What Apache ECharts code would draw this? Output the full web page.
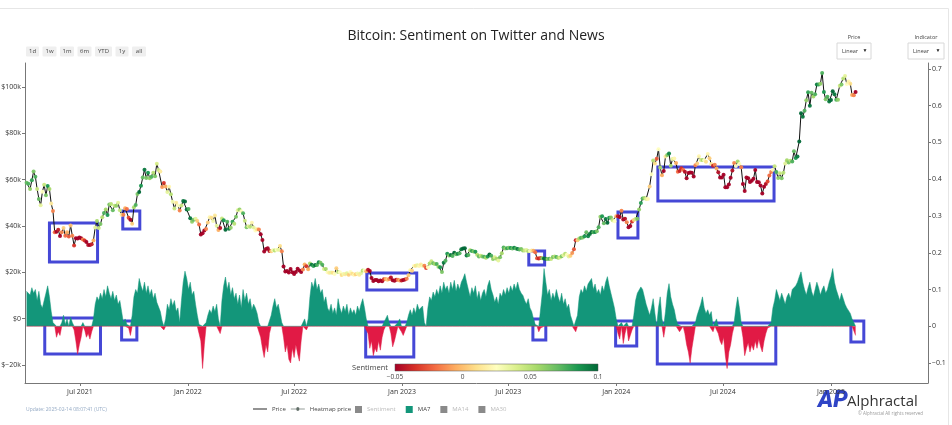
<!DOCTYPE html>
<html><head><meta charset="utf-8">
<script src="https://cdn.jsdelivr.net/npm/echarts@6/dist/echarts.min.js"></script>
<style>html,body{margin:0;padding:0;background:#fff}#c{width:952px;height:425px}</style>
</head><body><div id="c"></div>
<script>
// ---------------- DATA ----------------
const startDate = '2021-04-01';   // first sample
const stepDays = 3;               // one sample every 3 days

// BTC price (USD), one value every 3 days from 2021-04-01
const price = [
58700,58200,56000,59800,63500,61300,56000,51700,49000,54800,
57800,53300,57300,56000,49700,46500,37300,37500,38400,35700,
37300,39200,35800,37300,35500,40200,35800,31600,34700,34600,
35000,34700,34200,33800,33100,31800,31800,32100,33800,39400,
42200,39200,40900,43800,45600,47100,44800,49300,49500,46800,
48800,48800,50000,46800,44900,44900,47700,47300,43600,42700,
41000,48100,49100,53800,54700,57400,60900,64300,60700,63000,
60600,61300,63000,61500,66900,64200,63500,56900,58600,57100,
54700,57000,53700,50500,47600,50100,48900,46700,48900,50800,
50600,47100,47300,43400,41800,42700,43100,42200,40700,36300,
36900,38100,38700,41500,43800,43600,42200,44600,40100,38300,
39100,43200,42500,38400,41900,38800,39300,41800,41000,44000,
46800,47100,46400,45500,42300,39500,39900,39700,41400,39400,
38100,38600,38500,36500,34000,29000,30100,30400,29200,29100,
29500,29400,29800,29800,31400,29100,22500,20400,20600,19900,
21500,20100,19300,20200,21600,20800,20200,21200,23400,22600,
21300,23800,23300,22800,23200,23200,24400,24100,23300,21500,
21500,20000,19800,19900,19800,19300,21800,20200,20100,18900,
19300,19200,19600,19000,20200,19400,19000,19200,19500,19000,
19600,20800,20800,20500,21100,20600,17600,16300,16700,16700,
16200,16500,16200,17000,17100,16800,17100,17800,16600,16400,
16800,16800,16500,16500,16700,16900,17200,18800,20900,20700,
22800,22900,23100,22800,23400,22900,22900,21900,22200,23800,
24800,23900,23600,23600,22400,22200,20200,24100,25000,28000,
27300,27500,27100,28500,27800,28000,28300,30000,30300,30400,
27300,27500,29500,29200,29000,28900,27600,26800,27200,26800,
26700,26300,26900,27700,27200,25800,26500,25900,25100,26500,
28300,30700,30300,30400,30600,30500,30300,30600,30300,30100,
29900,30100,29400,29400,29700,29100,29200,29400,29300,28700,
26100,26000,26200,26100,26000,25900,25800,25900,25800,26600,
26800,26600,26300,26400,27000,27400,28000,27600,26800,27200,
28400,30000,33900,33900,34600,34900,35000,35600,37300,35600,
36600,37400,37300,37400,37800,39500,44000,44200,41200,43000,
41400,43600,43700,42500,42100,44200,44200,43900,46600,42800,
43100,41600,39500,40000,42000,42600,43000,43100,47100,49900,
51900,52100,51700,51700,57100,62400,68300,67000,69000,73100,
65300,61900,63800,70000,70700,71300,66000,68900,69100,67200,
63400,63800,64900,64300,63400,60600,62900,63100,63000,61400,
66200,67000,70100,68500,68500,68400,67700,71100,69300,66800,
66000,66500,64800,63200,60900,60900,62100,56700,56700,57900,
60800,64000,67200,65900,67900,66800,65400,58100,55100,60900,
60600,59000,59500,60400,64200,59000,58900,57500,54000,57000,
58100,59200,61800,63300,64300,65800,63300,60700,62800,60600,
63000,67000,68400,67400,68200,67900,72300,69400,70000,76500,
88700,87200,89800,94300,97700,91900,97500,95900,96900,101100,
101100,101400,106100,97800,94700,95800,93700,94400,98200,96900,
94500,94500,100500,101100,103700,104800,101300,102400,101400,96600,
96500,97900
];

// Sentiment MA7 (indicator axis), same dates
const sentimentMA7 = [
0.095,0.1,0.085,0.105,0.09,0.1,0.07,0.095,0.06,0.05,
0.07,0.09,0.11,0.08,0.04,0.01,0.005,-0.03,-0.015,-0.025,
0.01,0.03,0.005,0.02,0.0,0.025,0.01,-0.01,-0.04,-0.076,
-0.05,-0.03,0.01,-0.01,-0.03,-0.02,-0.035,-0.015,0.02,0.06,
0.08,0.07,0.09,0.075,0.1,0.08,0.11,0.09,0.075,0.095,
0.07,0.085,0.06,0.07,0.04,0.01,0.02,0.005,-0.005,-0.025,
0.03,0.08,0.1,0.09,0.13,0.11,0.095,0.12,0.09,0.11,
0.085,0.1,0.075,0.09,0.065,0.07,0.04,0.015,-0.01,0.02,
0.06,0.045,0.075,0.055,0.07,0.04,0.05,0.01,0.07,0.12,
0.15,0.13,0.1,0.12,0.085,0.095,0.06,0.03,0.005,-0.04,
-0.115,-0.05,0.01,0.03,0.045,0.035,0.055,0.04,0.06,0.02,
-0.02,0.07,0.11,0.134,0.1,0.12,0.085,0.105,0.075,0.09,
0.06,0.085,0.05,0.1,0.07,0.09,0.06,0.075,0.045,0.06,
0.05,0.035,0.01,-0.03,-0.06,-0.085,-0.05,-0.07,-0.02,0.03,
0.055,0.075,0.05,0.06,0.035,0.01,-0.03,-0.07,-0.05,-0.09,
-0.1,-0.06,-0.085,-0.05,-0.075,-0.095,-0.04,0.01,0.02,-0.01,
0.02,0.08,0.12,0.105,0.13,0.1,0.115,0.09,0.1,0.065,
0.08,0.05,0.04,0.06,0.035,0.05,0.03,0.075,0.05,0.035,
0.055,0.04,0.06,0.03,0.05,0.035,0.045,0.03,0.055,0.04,
0.06,0.075,0.05,0.02,-0.02,-0.06,-0.04,-0.08,-0.06,-0.07,
-0.04,-0.065,-0.03,-0.01,0.02,0.03,0.01,-0.02,-0.056,-0.04,
-0.02,0.01,0.02,-0.015,-0.025,-0.02,0.01,0.03,0.045,0.03,
0.05,0.035,0.06,0.045,0.04,0.055,0.01,-0.005,0.05,0.08,
0.07,0.093,0.08,0.1,0.085,0.11,0.09,0.12,0.1,0.11,
0.09,0.12,0.1,0.125,0.095,0.115,0.1,0.12,0.13,0.143,
0.12,0.1,0.08,0.105,0.09,0.11,0.075,0.095,0.07,0.09,
0.1,0.08,0.11,0.125,0.1,0.085,0.065,0.08,0.06,0.09,
0.08,0.1,0.085,0.105,0.09,0.11,0.095,0.115,0.1,0.12,
0.1,0.09,0.084,0.07,0.06,0.075,0.05,0.04,0.02,0.005,
0.0,-0.015,-0.005,0.09,0.157,0.12,0.085,0.1,0.07,0.09,
0.075,0.1,0.08,0.065,0.09,0.06,0.075,0.05,0.06,0.03,
0.015,0.0,-0.015,0.03,0.08,0.1,0.09,0.11,0.095,0.115,
0.12,0.13,0.1,0.115,0.09,0.1,0.085,0.11,0.095,0.12,
0.135,0.11,0.09,0.07,0.05,0.02,-0.02,-0.035,0.01,-0.047,
-0.02,0.01,-0.04,-0.025,-0.01,0.03,0.07,0.09,0.085,0.107,
0.1,0.08,0.06,0.045,0.03,0.05,0.075,0.035,0.0,0.05,
0.08,0.02,-0.03,0.04,0.09,0.116,0.08,0.06,0.045,0.02,
0.005,-0.015,-0.01,0.005,-0.02,-0.05,-0.07,-0.1,-0.06,-0.03,
0.01,0.03,0.045,0.06,0.08,0.05,0.035,0.045,0.03,0.04,
-0.015,0.01,0.02,-0.02,-0.04,-0.05,-0.03,-0.08,-0.115,-0.07,
-0.05,-0.02,0.01,0.05,0.08,0.05,0.01,-0.03,-0.08,-0.06,
-0.045,-0.07,-0.05,-0.065,-0.04,-0.06,-0.035,-0.055,-0.07,-0.04,
-0.02,-0.005,0.005,0.01,0.05,0.07,0.1,0.085,0.07,0.09,
0.075,0.06,0.08,0.09,0.075,0.1,0.095,0.11,0.12,0.135,
0.148,0.12,0.1,0.085,0.105,0.12,0.095,0.08,0.1,0.12,
0.105,0.085,0.1,0.11,0.09,0.1,0.12,0.135,0.157,0.12,
0.1,0.085,0.07,0.09,0.075,0.06,0.05,0.045,0.035,0.02,
0.01,-0.025
];

const xTickDates = ['2021-07-01','2022-01-01','2022-07-01','2023-01-01','2023-07-01','2024-01-01','2024-07-01','2025-01-01'];
const priceTicks = [-20000,0,20000,40000,60000,80000,100000];
const indicatorTicks = [-0.1,0,0.1,0.2,0.3,0.4,0.5,0.6,0.7];
const colorbarTicks = [-0.05,0,0.05,0.1];
const rangeButtons = ['1d','1w','1m','6m','YTD','1y','all'];
// highlighted periods: [from, to, low, high]
const priceBoxes = [
  ['2021-05-10','2021-07-31',24500,41300],
  ['2021-09-12','2021-10-11',38700,46500],
  ['2022-11-02','2023-01-26',12400,19700],
  ['2023-08-05','2023-09-01',23200,29200],
  ['2024-01-04','2024-02-07',34800,46100],
  ['2024-03-12','2024-09-26',50800,65500]
];
const sentimentBoxes = [
  ['2021-05-02','2021-08-05',-0.0755,0.0224],
  ['2021-09-10','2021-10-06',-0.0374,0.0143],
  ['2022-10-31','2023-01-21',-0.0837,0.0116],
  ['2023-08-12','2023-09-03',-0.0374,0.0197],
  ['2023-12-31','2024-02-05',-0.0537,0.0143],
  ['2024-03-11','2024-09-29',-0.1027,0.0088],
  ['2025-02-04','2025-02-26',-0.0429,0.0143]
];

// ---------------- CHART ----------------
const DAY = 86400000;
const t0 = Date.parse(startDate);
const times = price.map((_, i) => t0 + i * stepDays * DAY);
const GREEN = '#13967a', RED = '#e11a45', BLUE = '#4548d6';
const RDYLGN = ['#a50026','#d73027','#f46d43','#fdae61','#fee08b','#ffffbf','#d9ef8b','#a6d96a','#66bd63','#1a9850','#006837'];
const FONT = '"Open Sans", sans-serif';
const MONTHS = ['Jan','Feb','Mar','Apr','May','Jun','Jul','Aug','Sep','Oct','Nov','Dec'];

const chart = echarts.init(document.getElementById('c'), null, {renderer: 'canvas'});

const sq = 'path://M0,0H10V10H0Z';
const lineIcon = 'path://M0,0H20V1.4H0Z';
const heatIcon = 'path://M0,2.6H20V3.4H0Z M7.5,3A2.5,2.5 0 1 0 12.5,3A2.5,2.5 0 1 0 7.5,3Z';

// graphic decorations
const graphics = [];
graphics.push({type:'rect', shape:{x:-2, y:8.5, width:950.5, height:420}, style:{fill:'none', stroke:'#e6e6e6', lineWidth:1}, silent:true});
const btnW = [13,14,14,14,17,13,14];
let bx = 26;
rangeButtons.forEach((b, i) => {
  graphics.push({type:'rect', shape:{x:bx, y:46.5, width:btnW[i], height:10, r:1}, style:{fill:'#efefef'}, silent:true});
  graphics.push({type:'text', x:bx + btnW[i]/2, y:51.5, style:{text:b, fill:'#444', font:'6px ' + FONT, align:'center', verticalAlign:'middle'}, silent:true});
  bx += btnW[i] + 3.5;
});
function dropdown(label, x, w) {
  graphics.push({type:'text', x:x + w/2, y:37, style:{text:label, fill:'#444', font:'5.5px ' + FONT, align:'center', verticalAlign:'middle'}});
  graphics.push({type:'rect', shape:{x:x, y:43, width:w, height:16}, style:{fill:'#fff', stroke:'#d8d8d8', lineWidth:1}});
  graphics.push({type:'text', x:x + 5, y:51, style:{text:'Linear', fill:'#444', font:'5.5px ' + FONT, verticalAlign:'middle'}});
  graphics.push({type:'text', x:x + w - 6, y:51, style:{text:'\u25BC', fill:'#222', font:'5px ' + FONT, align:'center', verticalAlign:'middle'}});
}
dropdown('Price', 837, 34);
dropdown('Indicator', 908, 36);
const cbX = 395, cbW = 203, cbY = 364, cbH = 7;
graphics.push({type:'text', x:cbX - 7, y:cbY + cbH/2, style:{text:'Sentiment', fill:'#444', font:'7.5px ' + FONT, align:'right', verticalAlign:'middle'}});
graphics.push({type:'rect', shape:{x:cbX, y:cbY, width:cbW, height:cbH}, style:{
  fill: new echarts.graphic.LinearGradient(0,0,1,0, RDYLGN.map((c,i)=>({offset:i/(RDYLGN.length-1), color:c}))),
  stroke:'#555', lineWidth:0.5}});
colorbarTicks.forEach(v => {
  const x = cbX + (v - colorbarTicks[0]) / (colorbarTicks[colorbarTicks.length-1] - colorbarTicks[0]) * cbW;
  graphics.push({type:'text', x:x, y:cbY + cbH + 6, style:{text:(v<0?'\u2212':'') + Math.abs(v), fill:'#444', font:'6.5px ' + FONT, align:'center', verticalAlign:'middle'}});
});
graphics.push({type:'text', x:26, y:410, style:{text:'Update: 2025-02-14 08:07:41 (UTC)', fill:'#93a9c4', font:'5px ' + FONT, verticalAlign:'middle'}});
graphics.push({type:'text', x:818, y:401, style:{text:'AP', fill:'#2f44c6', font:'italic 900 23px Roboto, sans-serif', verticalAlign:'middle'}});
graphics.push({type:'text', x:847, y:402, style:{text:'Alphractal', fill:'#333', font:'15px ' + FONT, verticalAlign:'middle'}});
graphics.push({type:'text', x:858, y:414, style:{text:'\u00A9 Alphractal All rights reserved', fill:'#999', font:'4.5px ' + FONT, verticalAlign:'middle'}});

const xTickValues = xTickDates.map(d => Date.parse(d));
const legendText = {fontFamily:FONT, fontSize:6, color:'#444'};

const option = {
  animation: false,
  backgroundColor: '#fff',
  title: {text:'Bitcoin: Sentiment on Twitter and News', left:'center', top:24,
    textStyle:{fontFamily:FONT, fontSize:14, fontWeight:'normal', color:'#222'}},
  grid: {left:25, right:24, top:63, bottom:42, containLabel:false, outerBoundsMode:'none'},
  legend: [
    {left:253, top:406, padding:0, itemWidth:14, itemHeight:7, itemGap:5, selectedMode:false,
      textStyle:legendText,
      data:[
        {name:'Price', icon:lineIcon, itemStyle:{color:'#222'}},
        {name:'Heatmap price', icon:heatIcon, itemStyle:{color:'#23352b'}}
      ]},
    {left:355, top:406, padding:0, itemWidth:7, itemHeight:7, itemGap:10, selectedMode:false,
      textStyle:legendText,
      data:[
        {name:'Sentiment', icon:sq, itemStyle:{color:'#8a8a8a'}, textStyle:{color:'#bbb'}},
        {name:'MA7', icon:sq, itemStyle:{color:GREEN}},
        {name:'MA14', icon:sq, itemStyle:{color:'#8a8a8a'}, textStyle:{color:'#bbb'}},
        {name:'MA30', icon:sq, itemStyle:{color:'#8a8a8a'}, textStyle:{color:'#bbb'}}
      ]}
  ],
  xAxis: {
    type:'value',
    min: Date.UTC(2021,2,29,8), max: Date.UTC(2025,5,15,10),
    axisLine:{show:true, onZero:false, lineStyle:{color:'#777', width:1}},
    axisTick:{show:true, length:3, lineStyle:{color:'#777'}, customValues: xTickValues},
    axisLabel:{customValues: xTickValues, margin:5, fontSize:7, fontFamily:FONT, color:'#333',
      formatter: v => { const d = new Date(v); return MONTHS[d.getUTCMonth()] + ' ' + d.getUTCFullYear(); }},
    splitLine:{show:false}
  },
  yAxis: [
    {type:'value', position:'left', min:-27750, max:110370,
      axisLine:{show:true, lineStyle:{color:'#777'}},
      axisTick:{show:true, length:3, lineStyle:{color:'#777'}, customValues:priceTicks},
      axisLabel:{customValues:priceTicks, margin:4, fontSize:7, fontFamily:FONT, color:'#333',
        formatter: v => v === 0 ? '$0' : '$' + (v < 0 ? '\u2212' : '') + Math.abs(Math.round(v/1000)) + 'k'},
      splitLine:{show:false}},
    {type:'value', position:'right', min:-0.1544, max:0.7163,
      axisLine:{show:true, lineStyle:{color:'#777'}},
      axisTick:{show:true, length:3, lineStyle:{color:'#777'}, customValues:indicatorTicks},
      axisLabel:{customValues:indicatorTicks, margin:4, fontSize:7, fontFamily:FONT, color:'#333',
        formatter: v => { const r = Math.round(v*10)/10; return r === 0 ? '0' : (r < 0 ? '\u2212' : '') + Math.abs(r); }},
      splitLine:{show:false}}
  ],
  visualMap: [
    {type:'continuous', show:false, seriesIndex:1, dimension:2, min:-0.025, max:0.125, inRange:{color:RDYLGN}}
  ],
  series: [
    {name:'Price', type:'line', yAxisIndex:0, z:3, symbol:'none', silent:true,
      lineStyle:{color:'#111', width:1}, itemStyle:{color:'#222'},
      data: price.map((p,i)=>[times[i], p]),
      markArea:{silent:true, label:{show:false}, itemStyle:{color:'rgba(0,0,0,0)', borderColor:BLUE, borderWidth:3},
        data: priceBoxes.map(b => [{xAxis:Date.parse(b[0]), yAxis:b[2]}, {xAxis:Date.parse(b[1]), yAxis:b[3]}])}},
    {name:'Heatmap price', type:'scatter', yAxisIndex:0, z:4, symbol:'circle', symbolSize:4, silent:true,
      itemStyle:{opacity:0.95},
      data: price.map((p,i)=>[times[i], p, sentimentMA7[i]])},
    {name:'Sentiment', type:'line', yAxisIndex:1, data:[], itemStyle:{color:'#8a8a8a'}},
    {name:'MA7', type:'line', yAxisIndex:1, z:1, symbol:'none', silent:true,
      itemStyle:{color:GREEN}, lineStyle:{width:0.5, color:GREEN}, areaStyle:{opacity:1, color:GREEN, origin:0},
      data: sentimentMA7.map((s,i)=>[times[i], Math.max(s, 0)])},
    {name:'MA7 negative', type:'line', yAxisIndex:1, z:1, symbol:'none', silent:true,
      itemStyle:{color:RED}, lineStyle:{width:0.5, color:RED}, areaStyle:{opacity:1, color:RED, origin:0},
      data: sentimentMA7.map((s,i)=>[times[i], Math.min(s, 0)])},
    {name:'MA14', type:'line', yAxisIndex:1, data:[], itemStyle:{color:'#8a8a8a'}},
    {name:'MA30', type:'line', yAxisIndex:1, data:[], itemStyle:{color:'#8a8a8a'}},
    {name:'boxes', type:'line', yAxisIndex:1, data:[], z:5,
      markArea:{silent:true, label:{show:false}, itemStyle:{color:'rgba(0,0,0,0)', borderColor:BLUE, borderWidth:3},
        data: sentimentBoxes.map(b => [{xAxis:Date.parse(b[0]), yAxis:b[2]}, {xAxis:Date.parse(b[1]), yAxis:b[3]}])}}
  ],
  graphic: graphics
};
chart.setOption(option);
</script>
</body></html>
